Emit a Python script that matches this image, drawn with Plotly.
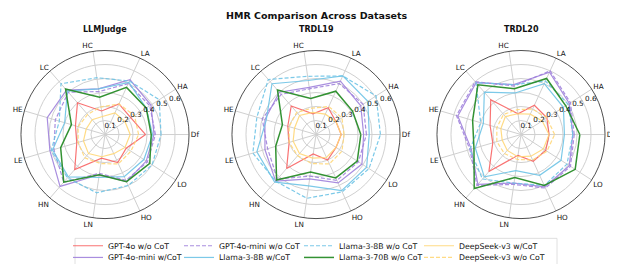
import plotly.graph_objects as go

categories = ["Df", "HA", "LA", "HC", "LC", "HE", "LE", "HN", "LN", "HO", "LO"]
datasets = ["LLMJudge", "TRDL19", "TRDL20"]
models = ["GPT-4o w/o CoT", "GPT-4o-mini w/CoT", "GPT-4o-mini w/o CoT", "Llama-3-8B w/CoT",
          "Llama-3-8B w/o CoT", "Llama-3-70B w/o CoT", "DeepSeek-v3 w/CoT", "DeepSeek-v3 w/o CoT"]
radial_ticks = [0.1, 0.2, 0.3, 0.4, 0.5, 0.6]

llmjudge = [
    [.29, .22, .24, .17, .30, .22, .21, .33, .17, .22, .18],
    [.35, .39, .43, .33, .42, .43, .41, .49, .29, .37, .35],
    [.36, .38, .40, .31, .40, .37, .38, .45, .28, .36, .36],
    [.34, .35, .41, .33, .41, .30, .39, .40, .31, .33, .33],
    [.40, .46, .42, .41, .48, .34, .40, .41, .42, .40, .40],
    [.33, .35, .37, .27, .43, .25, .33, .45, .29, .37, .38],
    [.18, .17, .17, .13, .14, .14, .16, .18, .16, .15, .17],
    [.24, .25, .24, .20, .19, .20, .20, .22, .21, .23, .22],
]
trdl19 = [
    [.18, .17, .21, .15, .27, .21, .20, .32, .14, .20, .17],
    [.34, .38, .42, .34, .40, .38, .38, .44, .32, .38, .39],
    [.36, .40, .40, .33, .38, .40, .36, .42, .30, .36, .36],
    [.38, .44, .46, .39, .48, .37, .44, .45, .37, .44, .43],
    [.46, .51, .46, .42, .52, .44, .47, .44, .46, .45, .45],
    [.32, .31, .34, .26, .42, .25, .30, .43, .27, .34, .35],
    [.18, .17, .16, .16, .18, .16, .17, .18, .17, .18, .17],
    [.20, .22, .22, .19, .21, .20, .20, .20, .21, .23, .22],
]
trdl20 = [
    [.20, .22, .23, .15, .33, .23, .21, .35, .15, .21, .21],
    [.37, .41, .49, .36, .49, .47, .37, .47, .35, .41, .41],
    [.38, .42, .50, .35, .50, .48, .38, .48, .36, .42, .42],
    [.31, .36, .40, .30, .40, .28, .34, .40, .26, .32, .34],
    [.37, .40, .42, .36, .49, .30, .38, .42, .35, .40, .39],
    [.42, .38, .44, .33, .47, .36, .35, .51, .31, .40, .46],
    [.20, .18, .16, .15, .17, .15, .14, .15, .16, .17, .19],
    [.24, .22, .20, .18, .19, .18, .18, .18, .18, .20, .22],
]
all_data = [llmjudge, trdl19, trdl20]

colors = ["rgba(248,90,90,0.85)", "rgba(160,130,220,0.9)", "rgba(160,130,220,0.9)",
          "rgba(110,195,230,0.9)", "rgba(110,195,230,0.9)", "rgba(40,140,40,0.95)",
          "rgba(255,215,120,0.9)", "rgba(255,215,120,0.9)"]
dashes = ["solid", "solid", "4px,2px", "solid", "4px,2px", "solid", "solid", "4px,2px"]
widths = [1.2, 1.2, 1.2, 1.2, 1.2, 1.5, 1.2, 1.2]

W, H = 618, 264
centers_x = [97, 308, 513]
cy, R = 128, 85
font = "DejaVu Sans, sans-serif"

# legend slot for each model: matplotlib-style 4 columns x 2 rows, column-major
leg_cols_px = [60, 171, 291, 411]
leg_rows_px = [240.5, 252.3]

fig = go.Figure()

for d, ds in enumerate(datasets):
    pname = "polar" if d == 0 else f"polar{d+1}"
    for m, model in enumerate(models):
        vals = all_data[d][m]
        lname = "legend" if m == 0 else f"legend{m+1}"
        fig.add_trace(go.Scatterpolar(
            r=vals + [vals[0]], theta=categories + [categories[0]],
            mode="lines", name=model, subplot=pname,
            line=dict(color=colors[m], dash=dashes[m], width=widths[m]),
            showlegend=(d == 0), legend=lname,
            hoverinfo="skip",
        ))
    cx = centers_x[d]
    fig.layout[pname] = dict(
        domain=dict(x=[(cx - R) / W, (cx + R) / W], y=[1 - (cy + R) / H, 1 - (cy - R) / H]),
        bgcolor="white",
        angularaxis=dict(direction="counterclockwise", rotation=0, type="category",
                         categoryarray=categories,
                         showline=True, linecolor="#222", linewidth=0.8,
                         gridcolor="#d0d0d0", gridwidth=0.8, ticks="",
                         tickfont=dict(size=7.2, color="#111", family=font)),
        radialaxis=dict(range=[0, 0.6], tickvals=radial_ticks, angle=22.5, tickangle=22.5,
                        side="counterclockwise",
                        showline=False, ticks="", gridcolor="#d0d0d0", gridwidth=0.8,
                        tickfont=dict(size=7.2, color="#111", family=font)),
    )
    fig.add_annotation(text=f"<b>{ds}</b>", x=cx / W, y=1 - 22 / H, xref="paper", yref="paper",
                       showarrow=False, font=dict(size=8, family=font, color="#111"),
                       xanchor="center", yanchor="middle")

fig.add_annotation(text="<b>HMR Comparison Across Datasets</b>", x=0.5, y=1 - 8 / H,
                   xref="paper", yref="paper", showarrow=False,
                   font=dict(size=9.5, family=font, color="#111"), xanchor="center", yanchor="middle")

fig.add_shape(type="rect", xref="paper", yref="paper", x0=67 / W, x1=549 / W,
              y0=1 - 260 / H, y1=1 - 233 / H, line=dict(color="#d8d8d8", width=0.8),
              fillcolor="white", layer="below")

legends = {}
for m in range(len(models)):
    lname = "legend" if m == 0 else f"legend{m+1}"
    legends[lname] = dict(x=leg_cols_px[m // 2] / W, y=1 - leg_rows_px[m % 2] / H,
                          xanchor="left", yanchor="middle", orientation="v",
                          font=dict(size=7.8, family=font, color="#111"),
                          bgcolor="rgba(0,0,0,0)", itemwidth=30)

fig.update_layout(
    width=W, height=H, margin=dict(l=0, r=0, t=0, b=0),
    paper_bgcolor="white", plot_bgcolor="white",
    font=dict(family=font),
    **legends,
)

fig.write_html("out.html")
